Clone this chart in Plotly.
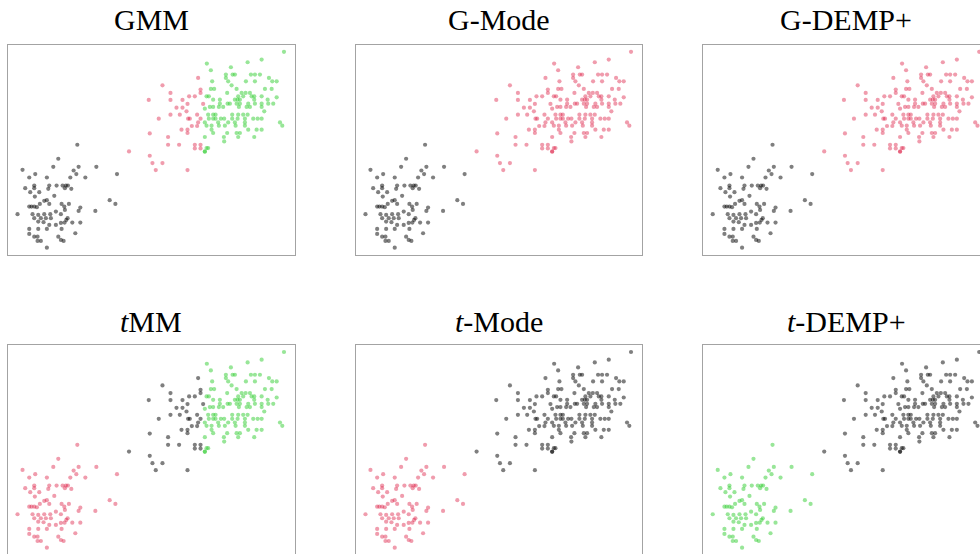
import plotly.graph_objects as go

# Three groups of 2-D observations (arbitrary units)
x_low = [50.7, 45.7, 15, 21.7, 27.7, 39.3, 17.7, 26.7, 26.7, 31.7, 22.7, 41.7, 40.7, 49, 55, 58.3, 57.3,
         46.7, 27.3, 39.3, 36.7, 41.7, 32.3, 54, 56.7, 21.7, 24, 26.7, 29.3, 10, 25, 30.7, 36.7, 42.7,
         48.3, 53.3, 33.3, 38.3, 43.3, 26.7, 30.7, 36, 41.7, 48.3, 53.3, 58.7, 21.7, 30.7, 39.3, 54,
         21.7, 26.7, 30, 50.7, 53.3, 30, 33.3, 39.3, 57.3,
         69.7, 71, 88.7, 66, 68.7, 62.7, 77.7, 109.3, 60.3, 63.7, 61.3, 72.7, 71, 87.7, 102, 107.7,
         60, 57, 64.7, 72.7, 67.7, 56]
y_low = [96, 88, 85, 77.3, 80.7, 77.3, 66.7, 69.3, 66.7, 62.7, 62.7, 69.3, 66, 69.3, 69.3, 69.3, 66.7,
         59, 58.3, 54.7, 54, 51, 51, 51, 48.3, 48.3, 48.3, 48.3, 47.7, 40.7, 40.7, 40, 40.7, 40.7,
         43.3, 40.7, 36.7, 36.7, 36.7, 36.7, 33.3, 32.7, 30, 30, 32, 35, 26, 26, 26, 26,
         21, 18.3, 18.3, 18.3, 15, 14, 14, 7.3, 45,
         110, 88, 88, 84.3, 80.7, 77.3, 77.3, 80.7, 69.3, 66, 51, 47.3, 44, 44, 54.7, 51,
         36.7, 32.3, 32.3, 32.3, 21.7, 14]

x_mid = [121.3, 190.3, 154.7, 162.7, 192.7, 192.7, 181.3, 187, 141, 162.7, 174.7, 179.7, 195.3, 168.7,
         174.7, 178.7, 162.7, 172, 189.3, 192.7, 180.3, 182, 151, 190.3, 184, 189.3, 173.7, 179.7,
         179.7, 142, 160.3, 160.3, 171.3, 187, 192.7, 187, 192.7, 142, 144.7, 154.7, 148, 179.7]
y_mid = [103.3, 176.7, 169.3, 161.7, 165, 161.7, 158.3, 158.3, 154.7, 154.7, 154.7, 150.7, 150.7, 147,
         147, 143.3, 140, 140, 140, 136, 136, 136, 136, 132.3, 128.7, 128.7, 125, 125,
         121.7, 121.3, 117.7, 110, 110, 110, 110, 106.3, 106.3, 99, 91.7, 91.7, 84.7, 84.7]

x_up = [197, 197, 197, 276, 253.7, 199, 239.7, 203, 223, 218, 224.7, 227, 243, 247, 252, 218, 261, 204.3,
        220.3, 238, 247, 264.3, 268.7, 223.7, 203, 206.3, 228.7, 257, 263.7, 219.3, 233.7, 237.7, 242,
        198.7, 201, 230.3, 235.3, 243.7, 246.3, 253.7, 205.3, 212, 227, 229.7, 232, 246.3, 259.7, 268.7,
        212, 219.7, 222, 228.7, 232, 240.3, 247, 253.7, 260.3, 265.3,
        202, 205.3, 211, 215.3, 231, 238.7, 242, 253.7, 256.3, 200.3, 205.3, 207.7, 224.3, 230.3, 235.3,
        239.7, 201, 205.3, 207.7, 213, 216.3, 224.3, 229.7, 237, 245.3, 249.7, 253.7, 197, 210.3, 220.3,
        227, 237, 272, 198.7, 203.7, 211, 217, 227.7, 237, 274.3, 203.7, 240.3, 248.7, 253.7, 205.3,
        219.3, 228.7, 232, 216, 230.3, 246.3, 216.3, 198.7, 200.3, 197]
y_up = [146, 117.7, 103, 202.7, 195, 191, 192.3, 184.3, 187.3, 180, 180, 180, 180, 180, 180, 176.7, 176.7, 173.3,
        173.3, 173.3, 173.3, 173.3, 173.3, 169.3, 165.7, 165.7, 165.7, 165.7, 165.7, 161.7, 161.7, 161.7, 161.7,
        158.3, 158.3, 158.3, 158.3, 158.3, 158.3, 158.3, 155, 155, 155, 155, 155, 155, 155, 157.3,
        151, 151, 151, 151, 151, 151, 151, 151, 151, 151,
        147.7, 147.7, 147.7, 147.7, 147.7, 147.7, 147.7, 147.7, 143.3, 140, 140, 140, 140, 140, 140,
        140, 136, 136, 136, 136, 136, 136, 136, 136, 136, 136, 136, 132.3, 132.3, 132.3,
        132.3, 132.3, 132.3, 129, 129, 129, 129, 129, 129, 129, 125, 125, 125, 125, 121.7,
        121.7, 121.7, 121.7, 117.7, 117.7, 117.7, 113.3, 106.7, 106.7, 103.3]

titles = ["GMM", "G-Mode", "G-DEMP+", "<i>t</i>MM", "<i>t</i>-Mode", "<i>t</i>-DEMP+"]

BLACK = "rgba(0,0,0,0.5)"
PINK = "rgba(220,20,60,0.42)"
GREEN = "rgba(50,205,50,0.5)"

# colour of (low, mid, up) groups for each method's clustering
assign = [
    (BLACK, PINK, GREEN),
    (BLACK, PINK, PINK),
    (BLACK, PINK, PINK),
    (PINK, BLACK, GREEN),
    (PINK, BLACK, BLACK),
    (GREEN, BLACK, BLACK),
]

W, H = 980, 554
col_dom = [(7.5 / W, 295 / W), (355.5 / W, 642 / W), (702.7 / W, 1.0)]
row_dom = [(1 - 255 / H, 1 - 44.5 / H), (0.0, 1 - 344.7 / H)]
x_full = [0, 287]
x_cut = [0, 276.8]
y_full = [0, 210]
y_cut = [1, 210]

fig = go.Figure()
groups = [(x_low, y_low), (x_mid, y_mid), (x_up, y_up)]
annotations = []
for i in range(6):
    r, c = divmod(i, 3)
    n = i + 1
    xa = "x" if n == 1 else f"x{n}"
    ya = "y" if n == 1 else f"y{n}"
    for (gx, gy), col in zip(groups, assign[i]):
        fig.add_trace(go.Scatter(
            x=gx, y=gy, mode="markers", xaxis=xa, yaxis=ya,
            marker=dict(size=4.2, color=col, line=dict(width=0)),
            showlegend=False, hoverinfo="skip"))
    last_col = c == 2
    bottom_row = r == 1
    xkey = "xaxis" if n == 1 else f"xaxis{n}"
    ykey = "yaxis" if n == 1 else f"yaxis{n}"
    fig.layout[xkey] = dict(
        domain=list(col_dom[c]), range=x_cut if last_col else x_full, anchor=ya,
        showline=True, linecolor="#a3a3a3", linewidth=1.3,
        mirror=not bottom_row, side="top" if bottom_row else "bottom",
        showgrid=False, zeroline=False, showticklabels=False, ticks="")
    fig.layout[ykey] = dict(
        domain=list(row_dom[r]), range=y_cut if bottom_row else y_full, anchor=xa,
        showline=True, linecolor="#a3a3a3", linewidth=1.3, mirror=not last_col,
        showgrid=False, zeroline=False, showticklabels=False, ticks="")
    cx = (col_dom[c][0] * W + 287.5 / 2) / W
    cy = 1 - (20 if r == 0 else 321) / H
    annotations.append(dict(
        text=titles[i], x=cx, y=cy, xref="paper", yref="paper",
        xanchor="center", yanchor="middle", showarrow=False,
        font=dict(family="Liberation Serif", size=30, color="black")))

fig.update_layout(
    width=W, height=H, margin=dict(l=0, r=0, t=0, b=0),
    paper_bgcolor="white", plot_bgcolor="white",
    annotations=annotations)

fig.write_html("out.html")
